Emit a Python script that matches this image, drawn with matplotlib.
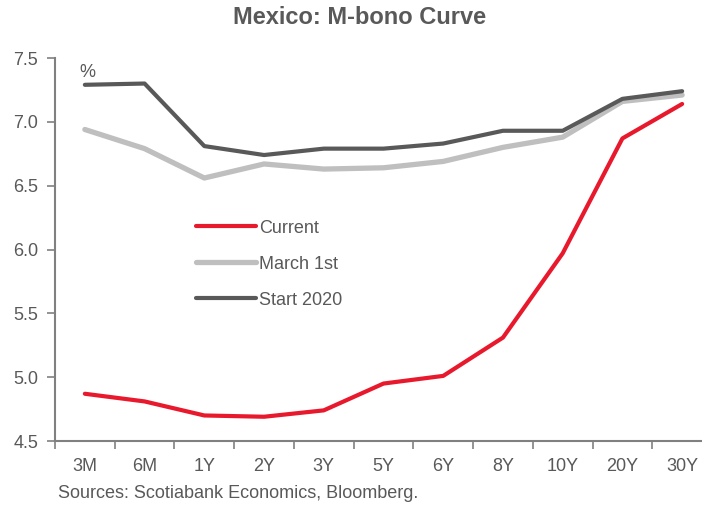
import matplotlib.pyplot as plt
import numpy as np

# Mexico M-bono curve
tenors = ["3M", "6M", "1Y", "2Y", "3Y", "5Y", "6Y", "8Y", "10Y", "20Y", "30Y"]
current = [4.87, 4.81, 4.70, 4.69, 4.74, 4.95, 5.01, 5.31, 5.97, 6.87, 7.14]
march1 = [6.94, 6.79, 6.56, 6.67, 6.63, 6.64, 6.69, 6.80, 6.88, 7.16, 7.21]
start2020 = [7.29, 7.30, 6.81, 6.74, 6.79, 6.79, 6.83, 6.93, 6.93, 7.18, 7.24]
yticks = [4.5, 5.0, 5.5, 6.0, 6.5, 7.0, 7.5]

plt.rcParams['font.family'] = ['Liberation Sans', 'DejaVu Sans']

grey = "#595959"
fig = plt.figure(figsize=(7.02, 5.08), dpi=100)
ax = fig.add_axes([55/702, 67/508, 657/702, 383/508])

x = np.arange(len(tenors))
ax.plot(x, current, color="#E8192C", lw=3, label="Current", solid_capstyle="round")
ax.plot(x, march1, color="#BFBFBF", lw=3.8, label="March 1st", solid_capstyle="round")
ax.plot(x, start2020, color=grey, lw=3, label="Start 2020", solid_capstyle="round")

ax.set_xlim(-0.5, 10.5)
ax.set_ylim(4.5, 7.5)
ax.set_yticks(yticks)
ax.set_yticklabels([f"{v:.1f}" for v in yticks])
ax.set_xticks(x)
ax.set_xticklabels(tenors)
ax.set_xticks(np.arange(-0.5, 10.6, 1), minor=True)
ax.tick_params(axis="x", which="major", length=0, pad=12, labelsize=13, labelcolor=grey)
ax.tick_params(axis="x", which="minor", length=6, width=1.2, color="#808080", direction="out")
ax.tick_params(axis="y", length=6, width=1.2, color="#808080", pad=6, labelsize=13, labelcolor=grey)

for s in ["top", "right"]:
    ax.spines[s].set_visible(False)
for s in ["left", "bottom"]:
    ax.spines[s].set_color("#808080")
    ax.spines[s].set_linewidth(1.5)

ax.text(0.05, 7.39, "%", fontsize=13, color=grey, ha="center", va="center")

leg = ax.legend(loc="upper left", bbox_to_anchor=(0.19, 0.62), frameon=False, fontsize=13,
                handlelength=3.3, handletextpad=0.2, labelspacing=1.05)
for t in leg.get_texts():
    t.set_color(grey)

fig.text(360/702, 1 - 18/508, "Mexico: M-bono Curve", ha="center", va="center",
         fontsize=17, fontweight="bold", color=grey)
fig.text(58/702, 1 - 493/508, "Sources: Scotiabank Economics, Bloomberg.", ha="left", va="center",
         fontsize=13, color=grey)

fig.savefig("out.png", dpi=100)
